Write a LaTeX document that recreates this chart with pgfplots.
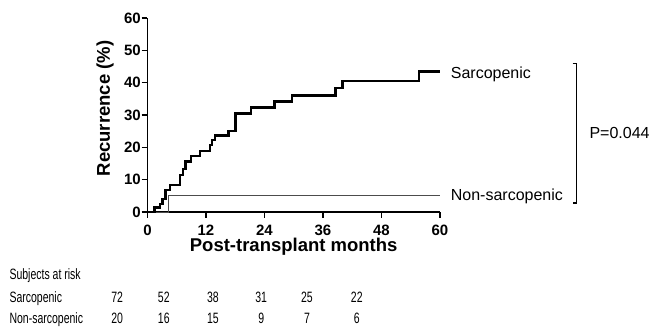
\documentclass[border=0pt]{standalone}
\usepackage{pgfplots}
\pgfplotsset{compat=1.18}
\usepackage{fontspec}
\setmainfont{Liberation Sans}
\newfontfamily\narrowfont[FakeStretch=0.7]{Liberation Sans}

\begin{document}
\begin{tikzpicture}[x=1pt,y=1pt]
\useasboundingbox (0,0) rectangle (649,327);
\begin{axis}[
  at={(147.5pt,115pt)}, anchor=south west,
  scale only axis, width=292.5pt, height=194pt,
  xmin=0, xmax=60, ymin=0, ymax=60,
  axis lines*=left,
  axis line style={line width=1.8pt},
  xtick={0,12,...,60}, ytick={0,10,...,60},
  tick align=outside, major tick length=6pt,
  tick style={line width=1.6pt, black},
  /pgf/number format/assume math mode=true,
  tick label style={font=\fontsize{15}{17}\selectfont\bfseries},
  xticklabel style={inner sep=0pt, yshift=-6.5pt},
  yticklabel style={inner sep=0pt, xshift=-0.5pt},
  clip=false,
]
\addplot[const plot, line width=0.9pt, black!70] coordinates {(0,0) (4.2,5) (60,5)};
\addplot[const plot, line width=2.5pt, black] coordinates {
(0,0) (1.4,1.4) (2.6,2.5) (3.1,4.0) (3.7,6.8) (4.6,8.4) (6.7,11.4)
(7.3,13.3) (7.8,15.6) (8.9,17.3) (10.8,18.9) (12.8,20.7) (13.2,22.3)
(13.8,23.6) (16.6,25.1) (18.1,30.5) (21.2,32.3) (26.1,34.2) (29.6,36.0)
(38.6,38.3) (40.0,40.5) (55.7,43.4) (60,43.4)};
\end{axis}
\node[font=\fontsize{18.5}{20}\selectfont\bfseries, rotate=90] at (105,218.5) {Recurrence (\%)};
\node[font=\fontsize{18.5}{20}\selectfont\bfseries, anchor=base, inner sep=0] at (293.7,75.5) {Post-transplant months};
\node[font=\fontsize{16}{18}\selectfont, anchor=base west, inner sep=0] at (450.7,248) {Sarcopenic};
\node[font=\fontsize{16}{18}\selectfont, anchor=base west, inner sep=0] at (450.7,126) {Non-sarcopenic};
\node[font=\fontsize{16}{18}\selectfont, anchor=base west, inner sep=0] at (589.3,188.7) {P=0.044};
\draw[line width=1.3pt] (572.7,263.7) -- (576.7,263.7) -- (576.7,124) -- (572.7,124);
\begin{scope}[every node/.style={font=\narrowfont\fontsize{15}{17}\selectfont, inner sep=0}]
\node[anchor=base west] at (9.3,47) {Subjects at risk};
\node[anchor=base west] at (9.3,24.3) {Sarcopenic};
\node[anchor=base west] at (9.3,3) {Non-sarcopenic};
\foreach \x/\a/\b in {117.2/72/20, 163.8/52/16, 213/38/15, 261.2/31/9, 307/25/7, 356.8/22/6} {
  \node[anchor=base] at (\x,24.3) {\a};
  \node[anchor=base] at (\x,3) {\b};
}
\end{scope}
\end{tikzpicture}
\end{document}
